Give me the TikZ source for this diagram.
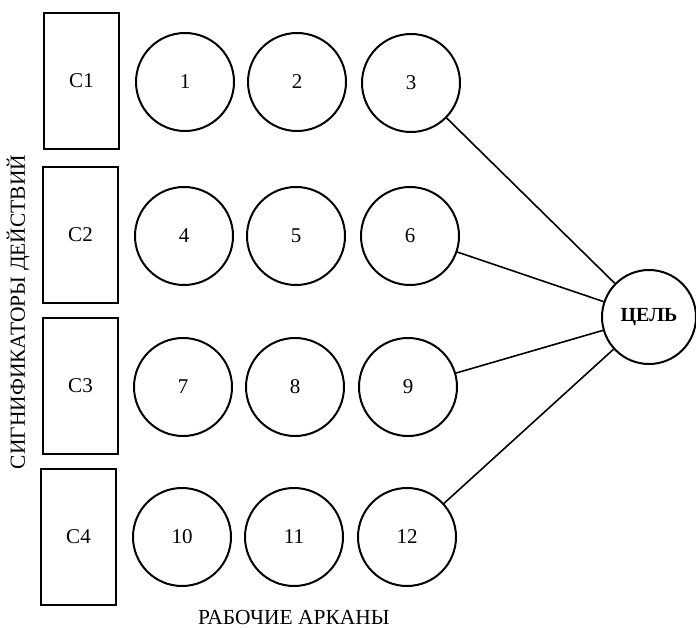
\documentclass[tikz,border=0pt]{standalone}
\usepackage{fontspec}
\setmainfont{Liberation Serif}
\begin{document}
\begin{tikzpicture}[x=1pt,y=-1pt,
  sig/.style={draw,line width=2.2pt,minimum width=75pt,minimum height=136pt,inner sep=0pt,font=\fontsize{21}{24}\selectfont},
  arc/.style={draw,circle,line width=2pt,minimum size=98pt,inner sep=0pt,font=\fontsize{21}{24}\selectfont},
  goal/.style={draw,circle,line width=2pt,minimum size=94pt,inner sep=0pt,font=\bfseries\fontsize{20}{24}\selectfont},
  link/.style={line width=1.6pt},
  lbl/.style={font=\fontsize{21.5}{24}\selectfont,inner sep=0pt}]
\useasboundingbox (0,0) rectangle (696,628);
\node[sig] (c1) at (81.5,81) {C1};
\node[sig] (c2) at (80.5,235) {C2};
\node[sig] (c3) at (80.5,386) {C3};
\node[sig] (c4) at (78.5,537) {C4};
\node[arc] (a1) at (185,82) {1};
\node[arc] (a2) at (297,82) {2};
\node[arc] (a3) at (411,83) {3};
\node[arc] (a4) at (184,236) {4};
\node[arc] (a5) at (296,236) {5};
\node[arc] (a6) at (410,236) {6};
\node[arc] (a7) at (183,387) {7};
\node[arc] (a8) at (295,387) {8};
\node[arc] (a9) at (408,387) {9};
\node[arc] (a10) at (182,537) {10};
\node[arc] (a11) at (294,537) {11};
\node[arc] (a12) at (407,537) {12};
\node[goal] (g) at (649,317) {ЦЕЛЬ};
\draw[link] (a3) -- (g);
\draw[link] (a6) -- (g);
\draw[link] (a9) -- (g);
\draw[link] (a12) -- (g);
\node[lbl,rotate=90] (vl) at (18,312) {СИГНИФИКАТОРЫ ДЕЙСТВИЙ};
\node[lbl] (hl) at (294,617) {РАБОЧИЕ АРКАНЫ};
\end{tikzpicture}
\end{document}
